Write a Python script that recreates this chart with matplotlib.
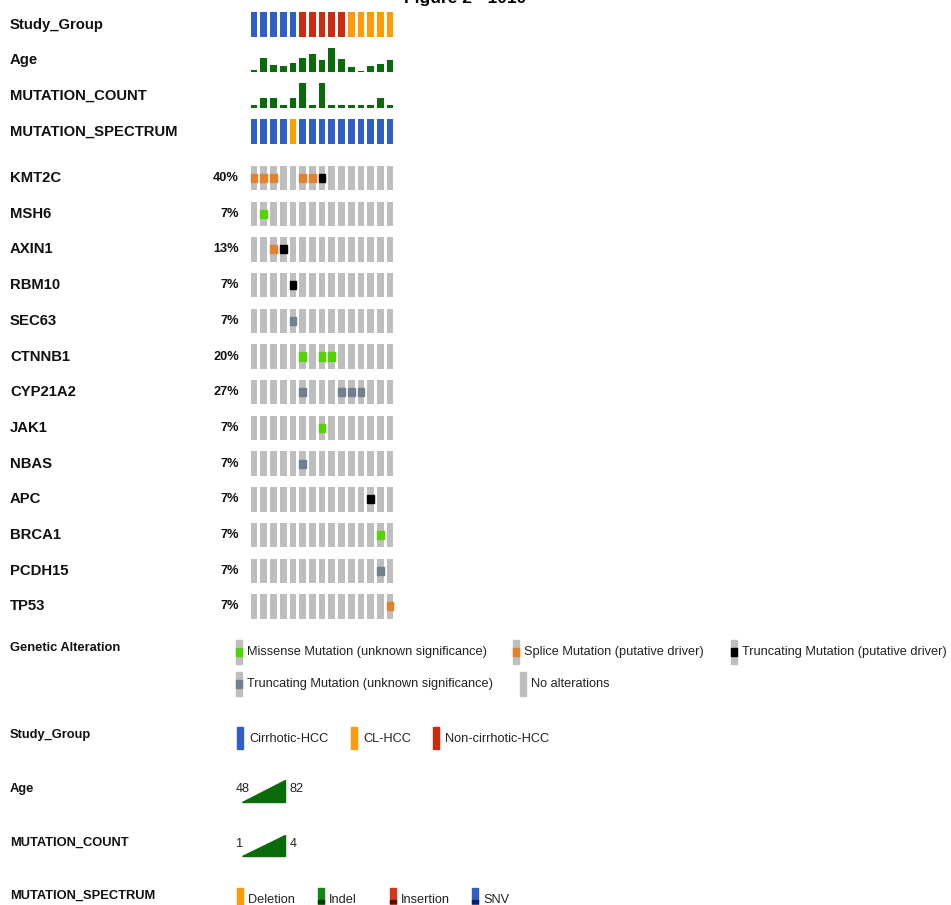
import numpy as np
import matplotlib
matplotlib.use('Agg')
import matplotlib.pyplot as plt
from matplotlib.patches import Rectangle, Polygon

plt.rcParams['font.family'] = ['Liberation Sans', 'DejaVu Sans']

# 数据
n_samples = 15
study_group = ['C'] * 5 + ['N'] * 5 + ['L'] * 5   # C=Cirrhotic, N=Non-cirrhotic, L=CL-HCC
age = [49, 68, 57, 56, 60, 68, 74, 64, 82, 66, 54, 48, 56, 59, 65]
mutation_count = [1, 2, 2, 1, 2, 4, 1, 4, 1, 1, 1, 1, 1, 2, 1]
spectrum = ['SNV'] * 4 + ['Deletion'] + ['SNV'] * 10

genes = ['KMT2C', 'MSH6', 'AXIN1', 'RBM10', 'SEC63', 'CTNNB1', 'CYP21A2',
         'JAK1', 'NBAS', 'APC', 'BRCA1', 'PCDH15', 'TP53']
# M=missense(unknown), S=splice(driver), T=truncating(driver), U=truncating(unknown)
alterations = [
    'SSS..SST.......',
    '.M.............',
    '..ST...........',
    '....T..........',
    '....U..........',
    '.....M.MM......',
    '.....U...UUU...',
    '.......M.......',
    '.....U.........',
    '............T..',
    '.............M.',
    '.............U.',
    '..............S',
]

group_colors = {'C': '#2f5fc6', 'L': '#ff9a0a', 'N': '#cc2b10'}
spec_colors = {'Deletion': '#ff9a0a', 'Indel': '#0d8a12', 'Insertion': '#d8341a', 'SNV': '#2f5fc6'}
alt_colors = {'M': '#53d400', 'S': '#e5802b', 'T': '#000000', 'U': '#708090'}
gray = '#bebebe'
green = '#0a6b0a'

# 画布，像素坐标
fig = plt.figure(figsize=(9.51, 9.05), dpi=100)
ax = fig.add_axes([0, 0, 1, 1])
ax.set_xlim(0, 951)
ax.set_ylim(905, 0)
ax.axis('off')

x0 = 250.7
pitch = 9.72
w = 6.7
xs = x0 + pitch * np.arange(n_samples)
cell_h = 24.4

track_y = 24.5 + 35.6 * np.arange(4)
gene_y = 178 + 35.7 * np.arange(len(genes))

label_kw = dict(fontsize=10.7, fontweight='bold', va='center', color='#111')

# 标题（被截掉一半）
ax.text(465, 2.5, 'Figure 2 - 1010', fontsize=12.5, fontweight='bold',
        ha='center', va='baseline')

# Study_Group
ax.text(10, track_y[0], 'Study_Group', **label_kw)
ax.bar(xs, cell_h, width=w, bottom=track_y[0] - cell_h / 2, align='edge',
       color=[group_colors[g] for g in study_group])

# Age
ax.text(10, track_y[1], 'Age', **label_kw)
age = np.array(age)
h_age = 1 + 23 * (age - age.min()) / (age.max() - age.min())
base = track_y[1] + 12
ax.bar(xs, -h_age, width=w, bottom=base, align='edge', color=green)

# MUTATION_COUNT
ax.text(10, track_y[2], 'MUTATION_COUNT', **label_kw)
mc = np.array(mutation_count)
h_mc = 3 + 22 * (mc - mc.min()) / (mc.max() - mc.min())
base = track_y[2] + 12.5
ax.bar(xs, -h_mc, width=w, bottom=base, align='edge', color=green)

# MUTATION_SPECTRUM
ax.text(10, track_y[3], 'MUTATION_SPECTRUM', **label_kw)
ax.bar(xs, cell_h + 1, width=w, bottom=track_y[3] - cell_h / 2, align='edge',
       color=[spec_colors[s] for s in spectrum])

# 基因行
for gname, row, y in zip(genes, alterations, gene_y):
    n_alt = sum(c != '.' for c in row)
    ax.text(10, y, gname, **label_kw)
    ax.text(239, y, '%d%%' % round(100 * n_alt / n_samples), fontsize=9.2,
            fontweight='bold', ha='right', va='center', color='#111')
    ax.bar(xs, cell_h, width=w, bottom=y - cell_h / 2, align='edge', color=gray)
    for i, c in enumerate(row):
        if c != '.':
            ax.add_patch(Rectangle((xs[i], y - cell_h / 6), w, cell_h / 3,
                                   color=alt_colors[c]))

# 图例
leg_kw = dict(fontsize=9.3, fontweight='bold', va='center', color='#111')
txt_kw = dict(fontsize=9.2, va='center', color='#222')
iw = 6

def alt_icon(x, y, code, label):
    ax.add_patch(Rectangle((x, y - 12), iw, 24, color=gray))
    if code:
        ax.add_patch(Rectangle((x, y - 4), iw, 8, color=alt_colors[code]))
    ax.text(x + 11, y, label, **txt_kw)

ax.text(10, 648, 'Genetic Alteration', **leg_kw)
alt_icon(236, 652, 'M', 'Missense Mutation (unknown significance)')
alt_icon(513, 652, 'S', 'Splice Mutation (putative driver)')
alt_icon(731, 652, 'T', 'Truncating Mutation (putative driver)')
alt_icon(236, 684, 'U', 'Truncating Mutation (unknown significance)')
alt_icon(520, 684, '', 'No alterations')

ax.text(10, 735, 'Study_Group', **leg_kw)
for x, g, lab in [(237, 'C', 'Cirrhotic-HCC'), (351, 'L', 'CL-HCC'),
                  (433, 'N', 'Non-cirrhotic-HCC')]:
    ax.add_patch(Rectangle((x, 727), iw, 22, color=group_colors[g]))
    ax.text(x + 12, 739, lab, **txt_kw)

def ramp(y, lo, hi):
    ax.add_patch(Polygon([(242, y + 12.5), (285, y + 12.5), (285, y - 9)],
                         closed=True, color=green))
    ax.text(236, y, str(lo), **txt_kw)
    ax.text(290, y, str(hi), **txt_kw)

ax.text(10, 789, 'Age', **leg_kw)
ramp(789, age.min(), age.max())
ax.text(10, 843, 'MUTATION_COUNT', **leg_kw)
ramp(843.5, mc.min(), mc.max())

ax.text(10, 896, 'MUTATION_SPECTRUM', **leg_kw)
for x, s in [(237, 'Deletion'), (318, 'Indel'), (390, 'Insertion'), (472, 'SNV')]:
    ax.add_patch(Rectangle((x, 888), 5.5, 20, color=spec_colors[s]))
    if s != 'Deletion':
        ax.add_patch(Rectangle((x, 900), 5.5, 3, color='#113311' if s == 'Indel' else
                               ('#551100' if s == 'Insertion' else '#102050')))
    ax.text(x + 11, 900, s, **txt_kw)

plt.savefig('out.png', dpi=100)
plt.close()
